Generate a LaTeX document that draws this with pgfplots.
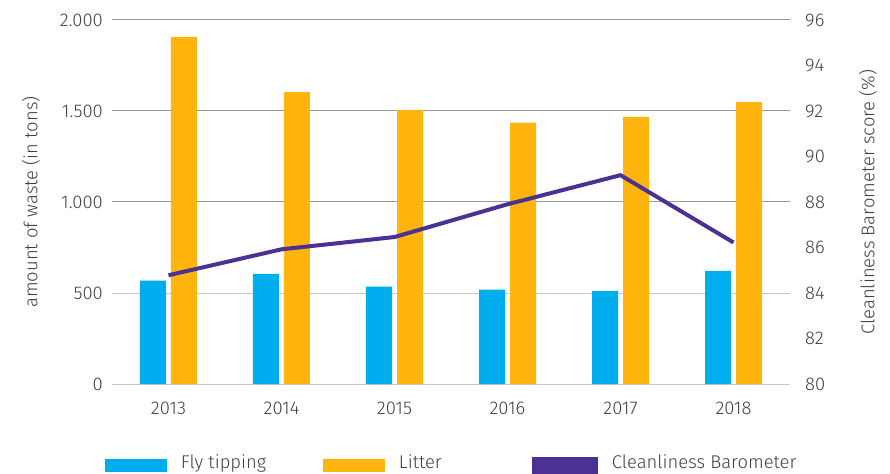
\documentclass[border=0pt]{standalone}
\usepackage{fontspec}
\setmainfont{Fira Sans}[UprightFont={* Light}]
\usepackage{pgfplots}
\pgfplotsset{compat=1.18}
\usepackage{pgfplotstable}

\definecolor{fly}{HTML}{00AEEF}
\definecolor{litter}{HTML}{FFB50D}
\definecolor{baro}{HTML}{4B3192}
\definecolor{txt}{HTML}{404040}
\definecolor{gridd}{HTML}{9A9A9A}
\definecolor{gridl}{HTML}{C8C8C8}

% year index, fly tipping (tons), litter (tons), barometer score (%)
\pgfplotstableread{
x  fly   litter  score
0  568   1907    84.78
1  605   1604    85.92
2  535   1505    86.46
3  518   1436    87.90
4  512   1468    89.18
5  622   1549    86.22
}\waste

\newcommand{\chartfont}{\fontsize{18.5}{22}\selectfont}

\pgfplotsset{
  base/.style={
    scale only axis, width=678bp, height=364bp,
    xmin=-0.5, xmax=5.5,
    axis line style={draw=none},
    major tick length=0pt,
    tick label style={font=\chartfont, text=txt, inner sep=0pt},
    label style={font=\chartfont, text=txt},
    /pgf/number format/assume math mode=true,
  },
}

\begin{document}
\begin{tikzpicture}
\useasboundingbox (-112bp,-90bp) rectangle (778bp,384bp);

\begin{axis}[
  base,
  ymin=0, ymax=2000,
  ytick={1000,1500,2000},
  extra y ticks={0,500},
  extra y tick style={grid style={gridl, line width=1bp}},
  ymajorgrids,
  grid style={gridd, line width=1bp},
  /pgf/number format/1000 sep={.},
  yticklabel style={xshift=-9bp},
  xtick={0,...,5},
  xticklabels={2013,2014,2015,2016,2017,2018},
  xticklabel style={yshift=-18bp},
  ylabel={amount of waste (in tons)},
  y label style={at={(axis description cs:0,0.5)}, anchor=center, yshift=81bp},
]
\addplot[ybar, bar width=26bp, bar shift=-15.5bp, fill=fly, draw=none]
  table[x=x, y=fly] {\waste};
\addplot[ybar, bar width=26bp, bar shift=15.5bp, fill=litter, draw=none]
  table[x=x, y=litter] {\waste};
\end{axis}

\begin{axis}[
  base,
  xtick=\empty,
  yticklabel pos=right,
  ymin=80, ymax=96,
  ytick={80,82,...,96},
  yticklabel style={anchor=west, xshift=15bp},
  ylabel={Cleanliness Barometer score (\%)},
  y label style={at={(axis description cs:1,0.5)}, anchor=center, yshift=-78bp},
  legend columns=3,
  legend image code/.code={\fill[#1] (0bp,-5.75bp) rectangle (62bp,7.25bp);},
  legend style={
    draw=none, fill=none, inner sep=0pt, outer sep=0pt,
    at={(0,0)}, anchor=north west, xshift=-7bp, yshift=-72.75bp,
    font=\chartfont, text=txt,
    nodes={inner sep=0pt, text height=0.75em, text depth=0.25em},
    column sep=0pt,
    /tikz/every odd column/.append style={column sep=14bp},
  },
]
\addlegendimage{fill=fly, draw=none}
\addlegendimage{fill=litter, draw=none}
\addplot[baro, line width=4bp, mark=none] table[x=x, y=score] {\waste};
\legend{\makebox[142bp][l]{Fly tipping},
        \makebox[133bp][l]{Litter},
        Cleanliness Barometer}
\end{axis}
\end{tikzpicture}
\end{document}
